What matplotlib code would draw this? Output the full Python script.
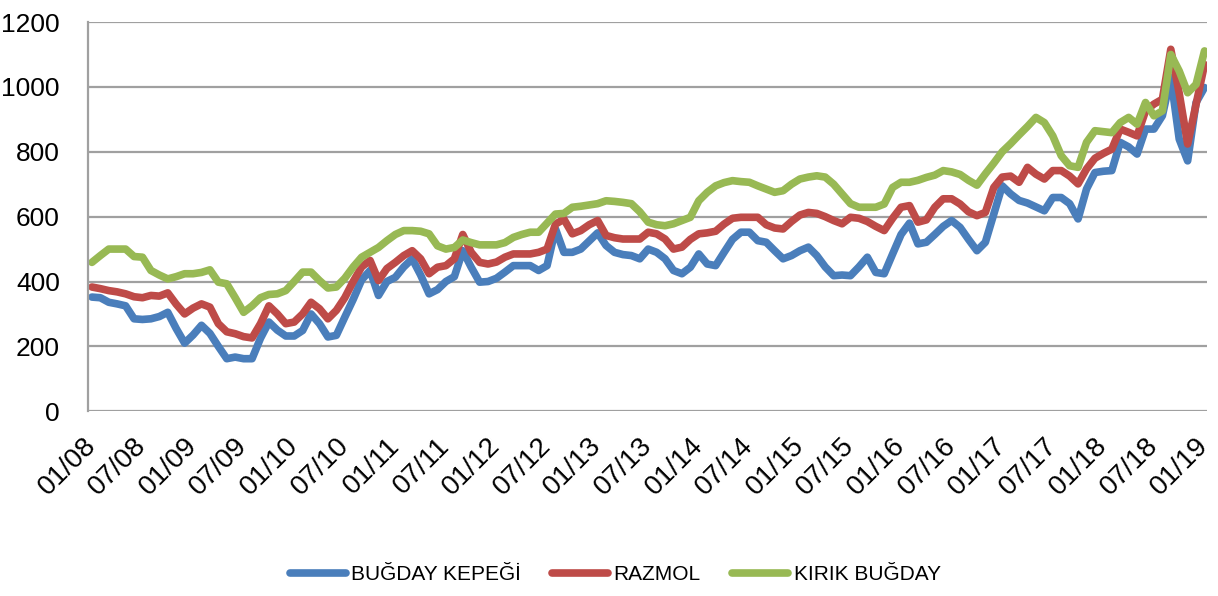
import matplotlib
matplotlib.use("Agg")
import matplotlib.pyplot as plt
import numpy as np

plt.rcParams['font.family'] = ['Liberation Sans', 'DejaVu Sans']

# monthly prices, 01/2008 - 01/2019
bugday_kepegi = [352, 350, 336, 331, 325, 285, 283, 285, 292, 305,
                 255, 210, 235, 265, 240, 200, 162, 167, 162, 162,
                 225, 275, 250, 232, 232, 249, 300, 270, 229, 234,
                 290, 345, 405, 434, 357, 400, 413, 445, 470, 420,
                 362, 375, 400, 415, 495, 444, 398, 400, 410, 429,
                 449, 449, 449, 434, 449, 562, 490, 490, 500, 525,
                 550, 511, 490, 483, 480, 470, 500, 490, 470, 434,
                 424, 444, 485, 454, 449, 490, 530, 552, 552, 526,
                 521, 495, 470, 480, 495, 506, 480, 445, 418, 420,
                 418, 445, 475, 428, 424, 485, 545, 580, 516, 521,
                 545, 570, 588, 567, 530, 495, 521, 608, 695, 670,
                 650, 642, 630, 618, 659, 659, 640, 593, 685, 736,
                 740, 742, 829, 815, 793, 870, 870, 911, 1030, 839,
                 772, 952, 998]

razmol = [383, 378, 372, 368, 362, 353, 350, 357, 355, 365,
          330, 300, 318, 331, 321, 270, 245, 239, 230, 226,
          270, 325, 300, 270, 275, 300, 336, 316, 285, 311,
          350, 400, 445, 465, 403, 440, 459, 480, 495, 470,
          424, 444, 449, 470, 545, 490, 459, 454, 460, 475,
          485, 485, 485, 490, 500, 577, 592, 547, 557, 575,
          588, 542, 535, 531, 531, 531, 552, 547, 531, 500,
          506, 530, 547, 550, 555, 577, 595, 598, 598, 598,
          575, 565, 562, 585, 605, 613, 610, 600, 588, 578,
          598, 595, 585, 570, 557, 595, 629, 634, 583, 590,
          629, 655, 655, 639, 615, 603, 613, 690, 722, 725,
          706, 752, 731, 716, 742, 742, 725, 701, 747, 780,
          795, 808, 870, 860, 849, 926, 947, 962, 1116, 980,
          824, 947, 1069]

kirik_bugday = [459, 480, 500, 500, 500, 477, 475, 434, 420, 408,
                415, 424, 424, 428, 436, 398, 393, 350, 305, 325,
                350, 360, 362, 372, 400, 429, 429, 403, 380, 383,
                410, 445, 475, 490, 505, 526, 545, 557, 557, 555,
                547, 510, 500, 505, 528, 520, 513, 513, 513, 520,
                536, 545, 552, 552, 580, 608, 610, 629, 632, 636,
                640, 649, 647, 644, 640, 615, 583, 575, 572, 578,
                588, 598, 649, 675, 695, 705, 711, 708, 706, 695,
                685, 675, 680, 700, 716, 722, 726, 722, 700, 670,
                640, 629, 629, 629, 639, 690, 706, 706, 712, 721,
                728, 742, 738, 730, 712, 697, 732, 765, 800, 825,
                852, 878, 906, 890, 849, 788, 757, 752, 829, 865,
                862, 859, 890, 906, 885, 952, 911, 926, 1100, 1049,
                982, 1008, 1111]

tick_labels = ['01/08', '07/08', '01/09', '07/09', '01/10', '07/10', '01/11',
               '07/11', '01/12', '07/12', '01/13', '07/13', '01/14', '07/14',
               '01/15', '07/15', '01/16', '07/16', '01/17', '07/17', '01/18',
               '07/18', '01/19']

series = [('BUĞDAY KEPEĞİ', bugday_kepegi, '#4A7EBB'),
          ('RAZMOL', razmol, '#BE4B48'),
          ('KIRIK BUĞDAY', kirik_bugday, '#98B954')]

fig = plt.figure(figsize=(12.18, 5.96), dpi=100)
ax = fig.add_axes([0.072, 0.31, 0.919, 0.653])

x = np.arange(len(bugday_kepegi))
for name, vals, col in series:
    ax.plot(x, vals, color=col, lw=5.5, label=name,
            solid_capstyle='round', solid_joinstyle='round')

ax.set_ylim(0, 1200)
ax.set_yticks(range(0, 1201, 200))
ax.set_xlim(-0.5, 132.3)
ax.set_xticks(np.arange(0, 133, 6))
ax.set_xticklabels(tick_labels, rotation=45, ha='right', va='center',
                   rotation_mode='anchor', fontsize=20)
ax.tick_params(axis='both', length=0)
ax.tick_params(axis='y', labelsize=19, pad=20)
ax.tick_params(axis='x', pad=22)

ax.grid(axis='y', color='#A0A0A0', lw=1.6)
ax.set_axisbelow(True)
for s in ['top', 'right', 'bottom']:
    ax.spines[s].set_visible(False)
ax.spines['left'].set_color('#A0A0A0')
ax.spines['left'].set_linewidth(1.6)

fig.legend(loc='lower center', bbox_to_anchor=(0.505, -0.012), ncol=3,
           frameon=False, fontsize=15, handlelength=2.7, handletextpad=0.25,
           columnspacing=1.5)

fig.savefig('out.png', dpi=100)
